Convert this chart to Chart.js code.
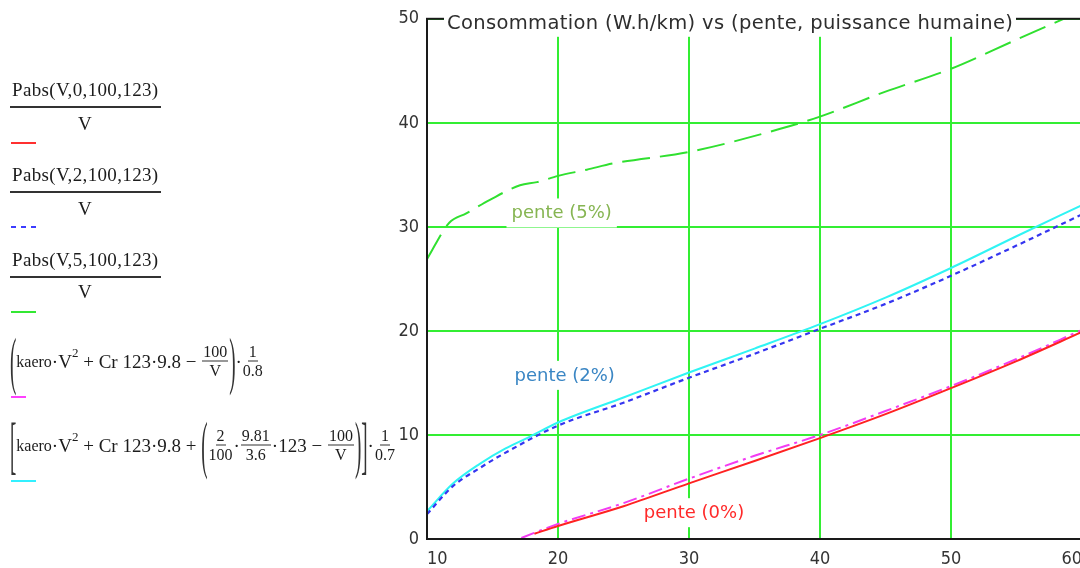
<!DOCTYPE html>
<html><head><meta charset="utf-8">
<script src="https://cdn.jsdelivr.net/npm/chart.js@4.4.1/dist/chart.umd.min.js"></script>
<style>
html,body{margin:0;padding:0;width:1080px;height:568px;overflow:hidden;background:#fff;}
#wrap{position:absolute;left:0;top:0;width:1100px;height:568px;}
.t{position:absolute;font-family:"Liberation Serif","Times New Roman",serif;font-size:19px;line-height:19px;color:#1c1c1c;white-space:nowrap;letter-spacing:0.35px;}
.bar{position:absolute;height:2px;background:#333;}
.ln{position:absolute;height:2px;}
.eq{position:absolute;display:flex;align-items:center;transform:translateY(-50%);font-family:"Liberation Serif","Times New Roman",serif;font-size:19px;line-height:19px;color:#1c1c1c;white-space:pre;}
.fr{display:inline-flex;flex-direction:column;align-items:center;font-size:16px;line-height:16px;margin:0 1px;}
.fr .nu{border-bottom:1.5px solid #333;padding:0 1px 1px;}
.fr .de{padding-top:1px;}
.bp{display:inline-block;transform:scaleY(3.3);font-size:19px;color:#333;}
.sm{font-size:16px;}
sup{font-size:13px;line-height:13px;align-self:flex-start;margin-top:2px;}
</style>
</head><body>
<div id="wrap"><canvas id="c" width="1100" height="568"></canvas></div>

<div class="t" style="left:12px;top:80px;">Pabs(V,0,100,123)</div>
<div class="bar" style="left:10px;top:106px;width:151px;"></div>
<div class="t" style="left:78px;top:114px;">V</div>
<div class="ln" style="left:11px;top:142px;width:25px;background:#ff3030;"></div>

<div class="t" style="left:12px;top:165px;">Pabs(V,2,100,123)</div>
<div class="bar" style="left:10px;top:191px;width:151px;"></div>
<div class="t" style="left:78px;top:199px;">V</div>
<div class="ln" style="left:11px;top:226px;width:26px;background:repeating-linear-gradient(90deg,#3c3cff 0 5px,transparent 5px 10px);"></div>

<div class="t" style="left:12px;top:250px;">Pabs(V,5,100,123)</div>
<div class="bar" style="left:10px;top:276px;width:151px;"></div>
<div class="t" style="left:78px;top:282px;">V</div>
<div class="ln" style="left:11px;top:311px;width:25px;background:#33e833;"></div>

<div class="eq" style="left:10px;top:361px;"><span class="bp">(</span><span class="sm">kaero</span>·V<sup>2</sup> + Cr 123·9.8 − <span class="fr"><span class="nu">100</span><span class="de">V</span></span><span class="bp">)</span>·<span class="fr"><span class="nu">1</span><span class="de">0.8</span></span></div>
<div class="ln" style="left:11px;top:396px;width:15px;background:#ff40ff;"></div>

<div class="eq" style="left:10px;top:445px;"><span class="bp">[</span><span class="sm">kaero</span>·V<sup>2</sup> + Cr 123·9.8 + <span class="bp">(</span><span class="fr"><span class="nu">2</span><span class="de">100</span></span>·<span class="fr"><span class="nu">9.81</span><span class="de">3.6</span></span>·123 − <span class="fr"><span class="nu">100</span><span class="de">V</span></span><span class="bp">)</span><span class="bp">]</span>·<span class="fr"><span class="nu">1</span><span class="de">0.7</span></span></div>
<div class="ln" style="left:11px;top:480px;width:25px;background:#33f0ff;"></div>

<script>
// ---- data ----
const xTicks = [10, 20, 30, 40, 50, 60];
const yTicks = [0, 10, 20, 30, 40, 50];

const vRed = [18.2, 20, 25, 30, 35, 40, 45, 50, 55, 60];
const consoRed = [0.5, 1.25, 3.15, 5.35, 7.5, 9.7, 12.0, 14.5, 17.1, 19.9];

const vMagenta = [17.2, 20, 25, 30, 35, 40, 45, 50, 55, 60];
const consoMagenta = [0.1, 1.45, 3.45, 5.8, 8.0, 10.0, 12.3, 14.7, 17.3, 20.1];

const vBlue = [10, 12, 14, 16, 20, 25, 30, 35, 40, 45, 50, 55, 60];
const consoBlue = [2.4, 5.1, 6.8, 8.3, 10.9, 13.1, 15.5, 17.8, 20.2, 22.6, 25.3, 28.2, 31.2];

const vCyan = [10, 12, 14, 16, 17.8, 20, 25, 30, 35, 40, 45, 50, 55, 60];
const consoCyan = [2.67, 5.35, 7.2, 8.7, 9.8, 11.2, 13.6, 16.0, 18.3, 20.65, 23.2, 26.05, 29.1, 32.1];

const vGreen = [10, 11.7, 13, 14.8, 17.1, 18.4, 20, 22.2, 24.2, 30, 36.9, 40, 45, 50, 55, 58.6, 60];
const consoGreen = [26.9, 30.4, 31.3, 32.6, 34.0, 34.3, 34.9, 35.5, 36.1, 37.2, 39.4, 40.6, 43.0, 45.2, 48.0, 50.0, 50.8];

const titleText = "Consommation (W.h/km) vs (pente, puissance humaine)";
const noteTexts = ["pente (5%)", "pente (2%)", "pente (0%)"];
const noteX = [20.28, 20.51, 30.38];
const noteY = [30.81, 15.2, 2.0];
const noteColors = ["#86b552", "#3a86c4", "#ff2a2a"];

const pts = (xs, ys) => xs.map((v, i) => ({x: v, y: ys[i]}));

const overlay = {
  id: 'overlay',
  beforeDatasetsDraw(chart) {
    const {ctx, scales: {x, y}} = chart;
    ctx.save();
    ctx.font = '18px "DejaVu Sans", sans-serif';
    ctx.textBaseline = 'alphabetic';
    ctx.textAlign = 'center';
    noteTexts.forEach((t, i) => {
      const px = x.getPixelForValue(noteX[i]);
      const py = y.getPixelForValue(noteY[i]);
      const w = ctx.measureText(t).width;
      ctx.fillStyle = '#fff';
      ctx.fillRect(px - w / 2 - 5, py - 20, w + 10, 29);
      ctx.fillStyle = noteColors[i];
      ctx.fillText(t, px, py);
    });
    ctx.restore();
  },
  afterDraw(chart) {
    const {ctx, chartArea: a} = chart;
    ctx.save();
    ctx.strokeStyle = '#1a1a1a';
    ctx.lineWidth = 2;
    ctx.strokeRect(a.left, a.top, a.right - a.left, a.bottom - a.top);
    // title band
    ctx.fillStyle = '#fff';
    ctx.fillRect(a.left + 17, 0, 572, a.top + 18);
    ctx.font = '19.5px "DejaVu Sans", sans-serif';
    const w = ctx.measureText(titleText).width;
    if ('letterSpacing' in ctx) {
      ctx.letterSpacing = ((566 - w) / (titleText.length - 1)).toFixed(2) + 'px';
    }
    ctx.fillStyle = '#2e2e2e';
    ctx.textBaseline = 'alphabetic';
    ctx.textAlign = 'left';
    ctx.fillText(titleText, a.left + 20, a.top + 10);
    ctx.restore();
  }
};

const tickFont = {family: '"Liberation Sans Narrow", "DejaVu Sans Condensed", "Liberation Sans", sans-serif', size: 18};

new Chart(document.getElementById('c'), {
  type: 'line',
  data: {
    datasets: [
      {data: pts(vRed, consoRed), borderColor: '#ff2222', borderWidth: 2},
      {data: pts(vMagenta, consoMagenta), borderColor: '#f23cf2', borderWidth: 2, borderDash: [14, 5, 3, 5]},
      {data: pts(vBlue, consoBlue), borderColor: '#3535f0', borderWidth: 2.2, borderDash: [5, 4]},
      {data: pts(vCyan, consoCyan), borderColor: '#30f4f4', borderWidth: 2},
      {data: pts(vGreen, consoGreen), borderColor: '#30e030', borderWidth: 2, borderDash: [28, 10]}
    ]
  },
  options: {
    responsive: false,
    devicePixelRatio: 1,
    animation: false,
    events: [],
    layout: {padding: {left: 0, right: 18, top: 16, bottom: 0}},
    elements: {point: {radius: 0}, line: {cubicInterpolationMode: 'monotone'}},
    plugins: {legend: {display: false}, title: {display: false}, tooltip: {enabled: false}},
    scales: {
      x: {
        type: 'linear', min: 10, max: 60,
        afterBuildTicks: s => { s.ticks = xTicks.map(v => ({value: v})); },
        afterFit: s => { s.height = 29; },
        grid: {color: '#33ee33', lineWidth: 2, drawTicks: false},
        border: {display: false},
        ticks: {font: tickFont, color: '#333', padding: 10, align: 'inner', maxRotation: 0}
      },
      y: {
        type: 'linear', min: 0, max: 50,
        afterBuildTicks: s => { s.ticks = yTicks.map(v => ({value: v})); },
        afterFit: s => { s.width = 427; },
        grid: {color: '#33ee33', lineWidth: 2, drawTicks: false},
        border: {display: false},
        ticks: {font: tickFont, color: '#333', padding: 8}
      }
    }
  },
  plugins: [overlay]
});
</script>
</body></html>
